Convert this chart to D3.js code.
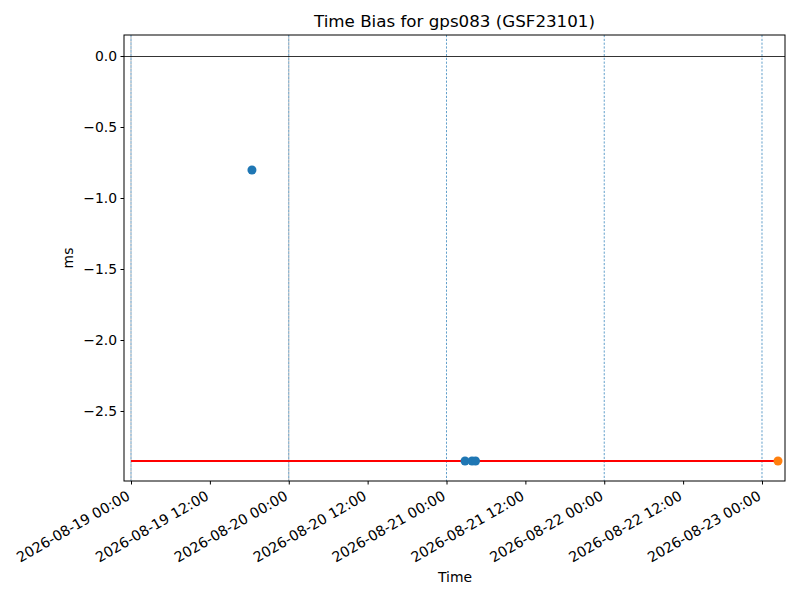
<!DOCTYPE html>
<html><head><meta charset="utf-8">
<script src="https://cdn.jsdelivr.net/npm/d3@7"></script>
<style>body{margin:0;background:#fff}text{font-family:"DejaVu Sans",sans-serif}</style>
</head><body><svg id="c" width="800" height="600"></svg>
<script>
const blueTimes = ["2026-08-19T18:24","2026-08-21T02:49","2026-08-21T03:53","2026-08-21T04:25"];
const blueValues = [-0.803, -2.852, -2.852, -2.852];
const orangeTimes = ["2026-08-23T02:26"];
const orangeValues = [-2.852];
const refLevel = -2.852;
const refStart = "2026-08-19T00:00", refEnd = "2026-08-23T02:26";
const dayLinesBlue = ["2026-08-19","2026-08-20","2026-08-21","2026-08-22","2026-08-23"];
const dayLinesGray = ["2026-08-19","2026-08-20"];
const xTicks = ["2026-08-19T00:00","2026-08-19T12:00","2026-08-20T00:00","2026-08-20T12:00","2026-08-21T00:00","2026-08-21T12:00","2026-08-22T00:00","2026-08-22T12:00","2026-08-23T00:00"];
const yTicks = [0.0,-0.5,-1.0,-1.5,-2.0,-2.5];
const xDomain = ["2026-08-18T22:56","2026-08-23T03:30"];
const yDomain = [-2.993, 0.148];

const p = d3.timeParse("%Y-%m-%dT%H:%M"), pd = d3.timeParse("%Y-%m-%d");
const L=124,R=785,T=35,B=481;
const svg=d3.select("#c");
const x=d3.scaleTime().domain(xDomain.map(p)).range([L,R]);
const y=d3.scaleLinear().domain(yDomain).range([B,T]);
const g=svg.append("g");
g.selectAll(".db").data(dayLinesBlue).join("line").attr("x1",d=>x(pd(d))).attr("x2",d=>x(pd(d))).attr("y1",T).attr("y2",B)
 .attr("stroke","#1f77b4").attr("stroke-width",0.7).attr("stroke-dasharray","2.2,1.6");
g.selectAll(".dg").data(dayLinesGray).join("line").attr("x1",d=>x(pd(d))).attr("x2",d=>x(pd(d))).attr("y1",T).attr("y2",B)
 .attr("stroke","#808080").attr("stroke-width",0.7).attr("stroke-dasharray","2.2,1.6").attr("stroke-dashoffset",1.9).attr("opacity",0.8);
g.append("line").attr("x1",L).attr("x2",R).attr("y1",Math.round(y(0))+0.5).attr("y2",Math.round(y(0))+0.5).attr("stroke","#000").attr("stroke-width",0.8);
g.append("line").attr("x1",x(p(refStart))).attr("x2",x(p(refEnd))).attr("y1",y(refLevel)).attr("y2",y(refLevel)).attr("stroke","#ff0000").attr("stroke-width",1.8);
g.selectAll(".b").data(blueTimes.map((t,i)=>[p(t),blueValues[i]])).join("circle").attr("cx",d=>x(d[0])).attr("cy",d=>y(d[1])).attr("r",4.5).attr("fill","#1f77b4");
g.selectAll(".o").data(orangeTimes.map((t,i)=>[p(t),orangeValues[i]])).join("circle").attr("cx",d=>x(d[0])).attr("cy",d=>y(d[1])).attr("r",4.5).attr("fill","#ff7f0e");
svg.append("rect").attr("x",L).attr("y",T).attr("width",R-L).attr("height",B-T).attr("fill","none").attr("stroke","#000").attr("stroke-width",1);
const fmt=d3.timeFormat("%Y-%m-%d %H:%M");
const xa=svg.append("g").attr("transform",`translate(0,${B})`).call(d3.axisBottom(x).tickValues(xTicks.map(p)).tickFormat(fmt).tickSize(3.5).tickPadding(3.5));
xa.select(".domain").remove();
xa.selectAll("line").attr("stroke","#000");
xa.selectAll("text").attr("font-size",14.2).attr("fill","#000").attr("text-anchor","end").attr("dy",0)
  .attr("transform","translate(-5,10) rotate(-30)").attr("y",9).attr("x",0);
const ya=svg.append("g").attr("transform",`translate(${L},0)`).call(d3.axisLeft(y).tickValues(yTicks).tickFormat(d=>d3.format(".1f")(d).replace("-","\u2212")).tickSize(3.5).tickPadding(3.5));
ya.select(".domain").remove();
ya.selectAll("line").attr("stroke","#000");
ya.selectAll("text").attr("font-size",13.9).attr("fill","#000");
svg.append("text").attr("x",(L+R)/2).attr("y",27).attr("text-anchor","middle").attr("font-size",16.7).text("Time Bias for gps083 (GSF23101)");
svg.append("text").attr("x",455).attr("y",582).attr("text-anchor","middle").attr("font-size",13.9).text("Time");
svg.append("text").attr("transform",`translate(73,${(T+B)/2}) rotate(-90)`).attr("text-anchor","middle").attr("font-size",13.9).text("ms");
</script></body></html>
